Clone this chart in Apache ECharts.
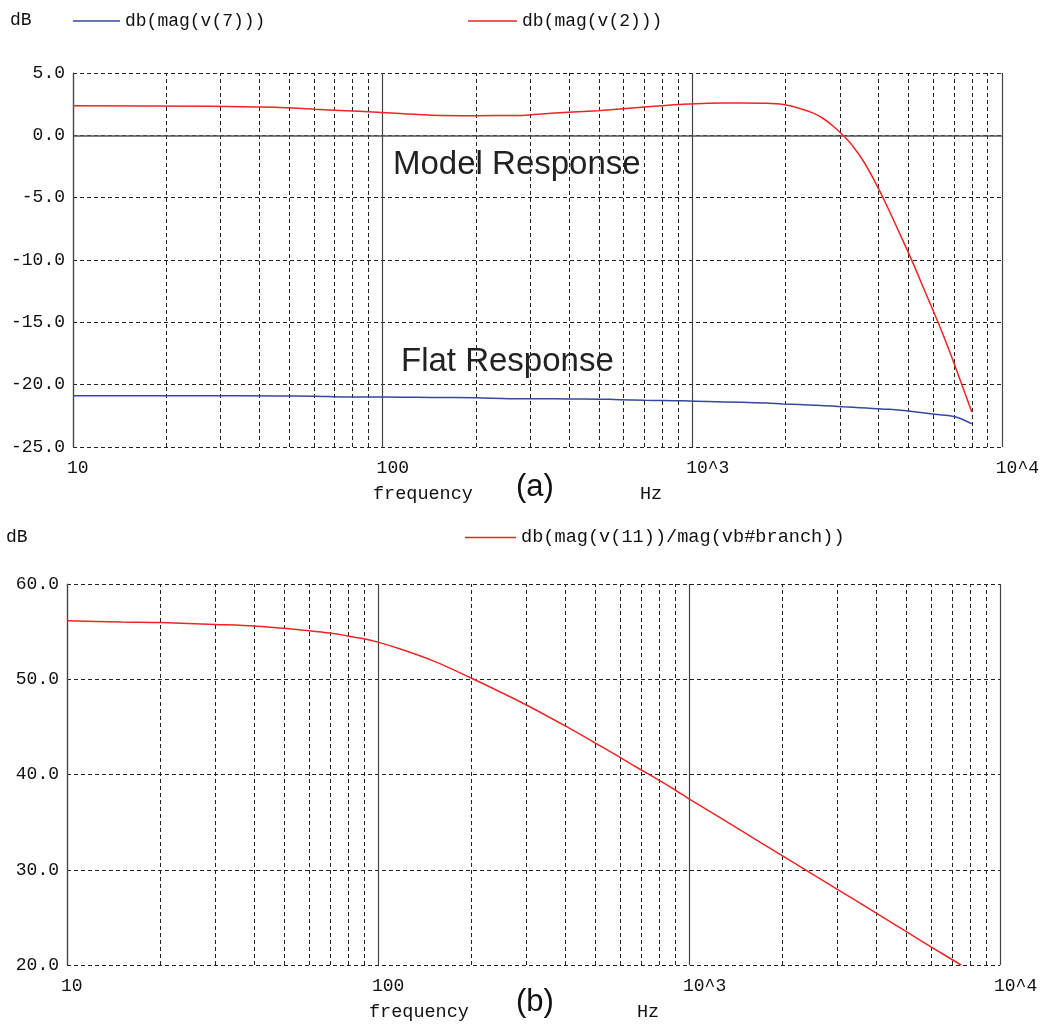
<!DOCTYPE html>
<html>
<head>
<meta charset="utf-8">
<script src="https://cdn.jsdelivr.net/npm/echarts@6/dist/echarts.min.js"></script>
<style>
html,body{margin:0;padding:0;background:#fff;}
#chart{width:1042px;height:1025px;}
</style>
</head>
<body>
<div id="chart"></div>
<script>
// ---------- data ----------
// chart (a): db(mag(v(2))) - model response
const freqV2 = [10, 28, 45, 60, 76, 93, 114, 144, 200, 277, 326, 398, 496, 583, 703, 804, 933, 1122, 1450, 1740, 1966, 2200, 2450, 2650, 2850, 3070, 3300, 3600, 3900, 4134, 4500, 5105, 5600, 6225, 6800, 7405, 8000];
const v2dB = [2.38, 2.33, 2.25, 2.1, 1.98, 1.87, 1.76, 1.62, 1.58, 1.59, 1.72, 1.85, 1.98, 2.12, 2.28, 2.38, 2.49, 2.57, 2.6, 2.57, 2.47, 2.2, 1.8, 1.35, 0.75, 0.0, -0.85, -2.2, -3.75, -5.0, -6.95, -9.95, -12.3, -15.0, -17.4, -19.9, -22.2];
// chart (a): db(mag(v(7))) - flat response
const freqV7 = [10, 28, 45, 60, 76, 93, 114, 144, 200, 277, 326, 398, 496, 583, 703, 804, 933, 1122, 1450, 1740, 1966, 2226, 2518, 2851, 3070, 3306, 3653, 3983, 4345, 4919, 5297, 5993, 6785, 7311, 8000];
const v7dB = [-20.88, -20.88, -20.9, -20.92, -20.98, -20.98, -21.0, -21.02, -21.05, -21.13, -21.13, -21.15, -21.16, -21.2, -21.25, -21.27, -21.3, -21.35, -21.42, -21.48, -21.55, -21.6, -21.65, -21.72, -21.78, -21.82, -21.88, -21.93, -21.98, -22.1, -22.2, -22.35, -22.5, -22.7, -23.15];

// chart (b): db(mag(v(11))/mag(vb#branch))
const freqV11 = [10, 15, 20, 30, 40, 50, 60, 70, 80, 90, 100, 120, 150, 200, 300, 400, 500, 600, 700, 800, 900, 1000, 1500, 2000, 3000, 4000, 5000, 6000, 7500];
const v11dB = [56.15, 56.0, 55.95, 55.75, 55.6, 55.35, 55.1, 54.85, 54.55, 54.25, 53.9, 53.1, 51.95, 50.1, 47.3, 45.1, 43.3, 41.8, 40.5, 39.4, 38.4, 37.45, 33.95, 31.45, 27.95, 25.45, 23.5, 21.9, 20.0];

// axes / ticks
const xTickValues = [10, 100, 1000, 10000];
const xTickLabels = ['10', '100', '10^3', '10^4'];
const minorFreqs = [20, 30, 40, 50, 60, 70, 80, 90, 200, 300, 400, 500, 600, 700, 800, 900, 2000, 3000, 4000, 5000, 6000, 7000, 8000, 9000];
const yRangeA = [-25, 5, 5];
const yRangeB = [20, 60, 10];

const seriesNamesA = ['db(mag(v(7)))', 'db(mag(v(2)))'];
const seriesNameB = 'db(mag(v(11))/mag(vb#branch))';

// ---------- styles ----------
const MONO = '"Liberation Mono", "DejaVu Sans Mono", monospace';
const SANS = '"Liberation Sans", Arial, sans-serif';
const RED = '#f02424';
const BLUE = '#3548a0';
const DASH = [4, 3];
const GRIDC = '#222';
const SOLIDC = '#444';

function zip(xs, ys) { return xs.map((x, i) => [x, ys[i]]); }
function xLabel(v) {
  const i = xTickValues.findIndex(t => Math.abs(t - v) / t < 1e-6);
  return i >= 0 ? xTickLabels[i] : '';
}

function makeX(gridIndex) {
  return {
    type: 'log', logBase: 10, min: 10, max: 10000, gridIndex,
    axisLine: { show: false }, axisTick: { show: false },
    axisLabel: { formatter: xLabel, fontFamily: MONO, fontSize: 18, color: '#111', align: 'left', margin: 12, padding: [0, 0, 0, -6] },
    splitLine: { show: true, lineStyle: { color: SOLIDC, width: 1.2, type: 'solid' } },
    minorTick: { show: false }, minorSplitLine: { show: false }
  };
}
function makeY(gridIndex, r) {
  return {
    type: 'value', gridIndex, min: r[0], max: r[1], interval: r[2],
    axisLine: { show: true, onZero: false, lineStyle: { color: SOLIDC, width: 1.2 } },
    axisTick: { show: false },
    axisLabel: { formatter: v => v.toFixed(1), fontFamily: MONO, fontSize: 18, color: '#111', margin: 8 },
    splitLine: { show: true, lineStyle: { color: GRIDC, width: 1, type: DASH } }
  };
}
function minorMarkLine(extra) {
  const data = minorFreqs.map(f => ({ xAxis: f }));
  if (extra) data.push(...extra);
  return {
    silent: true, symbol: ['none', 'none'], animation: false,
    label: { show: false },
    lineStyle: { color: GRIDC, width: 1, type: DASH },
    emphasis: { disabled: true },
    data
  };
}
function lineSeries(name, xi, xs, ys, color, extra) {
  const s = {
    name, type: 'line', xAxisIndex: xi, yAxisIndex: xi, data: zip(xs, ys),
    showSymbol: false, symbol: 'none', smooth: 0.25,
    lineStyle: { color, width: 1.5 }, itemStyle: { color }, z: 5
  };
  return Object.assign(s, extra || {});
}

const chart = echarts.init(document.getElementById('chart'), null, { renderer: 'canvas' });
const legendText = size => ({ fontFamily: MONO, fontSize: size, color: '#111' });
const option = {
  animation: false,
  backgroundColor: '#fff',
  grid: [
    { left: 73, right: 40, top: 73, height: 374 },
    { left: 67, right: 42, top: 584, height: 381 }
  ],
  xAxis: [makeX(0), makeX(1)],
  yAxis: [makeY(0, yRangeA), makeY(1, yRangeB)],
  legend: [
    { data: [seriesNamesA[0]], left: 68, top: 7, icon: 'rect', itemWidth: 47, itemHeight: 1.5, textStyle: legendText(18) },
    { data: [seriesNamesA[1]], left: 463, top: 7, icon: 'rect', itemWidth: 49, itemHeight: 1.5, textStyle: legendText(18) },
    { data: [seriesNameB], left: 460, top: 523, icon: 'rect', itemWidth: 51, itemHeight: 1.5, textStyle: legendText(18.6) }
  ],
  series: [
    lineSeries(seriesNamesA[0], 0, freqV7, v7dB, BLUE, {
      markLine: minorMarkLine([{ yAxis: 0, lineStyle: { type: 'solid', color: '#555', width: 1.5 } }]) }),
    lineSeries(seriesNamesA[1], 0, freqV2, v2dB, RED),
    lineSeries(seriesNameB, 1, freqV11, v11dB, RED, { markLine: minorMarkLine() })
  ],
  graphic: [
    { type: 'text', left: 10, top: 11, style: { text: 'dB', font: '18px ' + MONO, fill: '#111' } },
    { type: 'text', left: 6, top: 528, style: { text: 'dB', font: '18px ' + MONO, fill: '#111' } },
    { type: 'text', left: 393, top: 148, style: { text: 'Model Response', font: '33px ' + SANS, fill: '#222' } },
    { type: 'text', left: 401, top: 345, style: { text: 'Flat Response', font: '33px ' + SANS, fill: '#222' } },
    { type: 'text', left: 373, top: 485, style: { text: 'frequency', font: '18.5px ' + MONO, fill: '#111' } },
    { type: 'text', left: 640, top: 485, style: { text: 'Hz', font: '18.5px ' + MONO, fill: '#111' } },
    { type: 'text', left: 516, top: 472, style: { text: '(a)', font: '31px ' + SANS, fill: '#111' } },
    { type: 'text', left: 369, top: 1003, style: { text: 'frequency', font: '18.5px ' + MONO, fill: '#111' } },
    { type: 'text', left: 637, top: 1003, style: { text: 'Hz', font: '18.5px ' + MONO, fill: '#111' } },
    { type: 'text', left: 516, top: 987, style: { text: '(b)', font: '31px ' + SANS, fill: '#111' } }
  ]
};
chart.setOption(option);
</script>
</body>
</html>
